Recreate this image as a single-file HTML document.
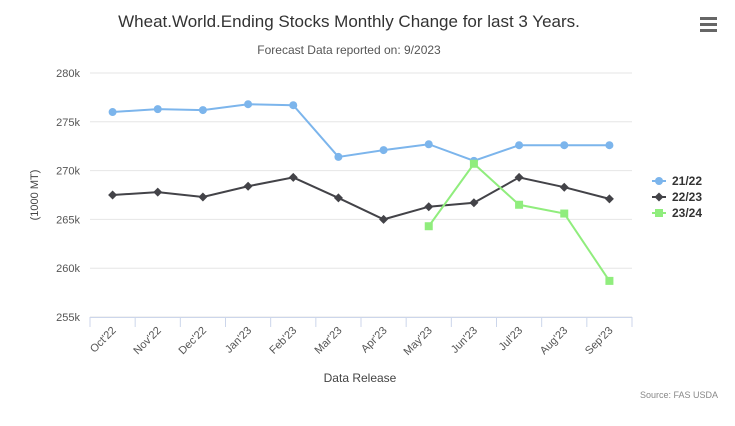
<!DOCTYPE html>
<html><head><meta charset="utf-8"><style>
body{margin:0;background:#fff;font-family:"Liberation Sans",sans-serif;}
svg text{font-family:"Liberation Sans",sans-serif;}
</style></head><body>
<svg id="c" width="735" height="421">
<text x="349" y="27" text-anchor="middle" font-size="17" fill="#333">Wheat.World.Ending Stocks Monthly Change for last 3 Years.</text>
<text x="349" y="54" text-anchor="middle" font-size="12" fill="#555">Forecast Data reported on: 9/2023</text>
<g><rect x="700" y="17" width="17" height="3" fill="#666"/><rect x="700" y="23" width="17" height="3" fill="#666"/><rect x="700" y="29" width="17" height="3" fill="#666"/></g>
<g id="grid"></g><g id="series"></g>
<text x="360" y="382" text-anchor="middle" font-size="12" fill="#444">Data Release</text>
<text transform="translate(38,195) rotate(-90)" text-anchor="middle" font-size="11" fill="#444">(1000 MT)</text>
<text x="718" y="398" text-anchor="end" font-size="9" fill="#888">Source: FAS USDA</text>
<g id="legend"></g>
</svg>
<script>
const categories=["Oct'22","Nov'22","Dec'22","Jan'23","Feb'23","Mar'23","Apr'23","May'23","Jun'23","Jul'23","Aug'23","Sep'23"];
const s2122=[276.0,276.3,276.2,276.8,276.7,271.4,272.1,272.7,271.0,272.6,272.6,272.6];
const s2223=[267.5,267.8,267.3,268.4,269.3,267.2,265.0,266.3,266.7,269.3,268.3,267.1];
const s2324=[null,null,null,null,null,null,null,264.3,270.7,266.5,265.6,258.7];
const yTicks=[255,260,265,270,275,280];
const NS="http://www.w3.org/2000/svg";
const L=90,R=632,T=73,B=317;
const x=i=>L+(R-L)/categories.length*(i+0.5);
const y=v=>B-(v-255)/(280-255)*(B-T);
function mk(t,a,p){const e=document.createElementNS(NS,t);for(const k in a)e.setAttribute(k,a[k]);(p||document.getElementById('c')).appendChild(e);return e;}
const g=document.getElementById('grid');
yTicks.forEach(v=>{
 const l=mk('line',{x1:L,x2:R,y1:y(v),y2:y(v),stroke:'#e6e6e6'},g);
 
 
 const t=mk('text',{x:L-10,y:y(v)+4,'text-anchor':'end','font-size':11,fill:'#555'},g);t.textContent=v+'k';
 
 
});
mk('line',{x1:L,x2:R,y1:B+0.5,y2:B+0.5,stroke:'#ccd6eb'},g);
categories.forEach((c,i)=>{
 const step=(R-L)/categories.length;
 mk('line',{x1:L+step*i,x2:L+step*i,y1:B,y2:B+10,stroke:'#ccd6eb'},g);
 const t=mk('text',{x:x(i)+4,y:B+14,'text-anchor':'end','font-size':11,fill:'#555',transform:`rotate(-45 ${x(i)+4} ${B+14})`},g);t.textContent=c;
 
 
});
mk('line',{x1:R,x2:R,y1:B,y2:B+10,stroke:'#ccd6eb'},g);
const S=document.getElementById('series');
function marker(type,cx,cy,col,p){
 if(type==='circle')return mk('circle',{cx,cy,r:4,fill:col},p);
 if(type==='diamond')return mk('path',{d:`M${cx} ${cy-4.5}L${cx+4.5} ${cy}L${cx} ${cy+4.5}L${cx-4.5} ${cy}Z`,fill:col},p);
 return mk('rect',{x:cx-4,y:cy-4,width:8,height:8,fill:col},p);
}
const series=[["21/22",s2122,'#7cb5ec','circle'],["22/23",s2223,'#434348','diamond'],["23/24",s2324,'#90ed7d','square']];
series.forEach(([name,d,col,m],si)=>{
 let pts=[];d.forEach((v,i)=>{if(v!=null)pts.push([x(i),y(v)]);});
 const p=mk('polyline',{points:pts.map(q=>q.join(',')).join(' '),fill:'none',stroke:col,'stroke-width':2},S);
 
 
 pts.forEach(q=>{const e=marker(m,q[0],q[1],col,S);
  
  });
 const lg=mk('g',{},document.getElementById('legend'));
 
 
 const ly=181+si*16;
 mk('line',{x1:652,x2:666,y1:ly,y2:ly,stroke:col,'stroke-width':2},lg);
 marker(m,659,ly,col,lg);
 const t=mk('text',{x:672,y:ly+4,'font-size':12,'font-weight':'bold',fill:'#333'},lg);t.textContent=name;
});
</script>
</body></html>
